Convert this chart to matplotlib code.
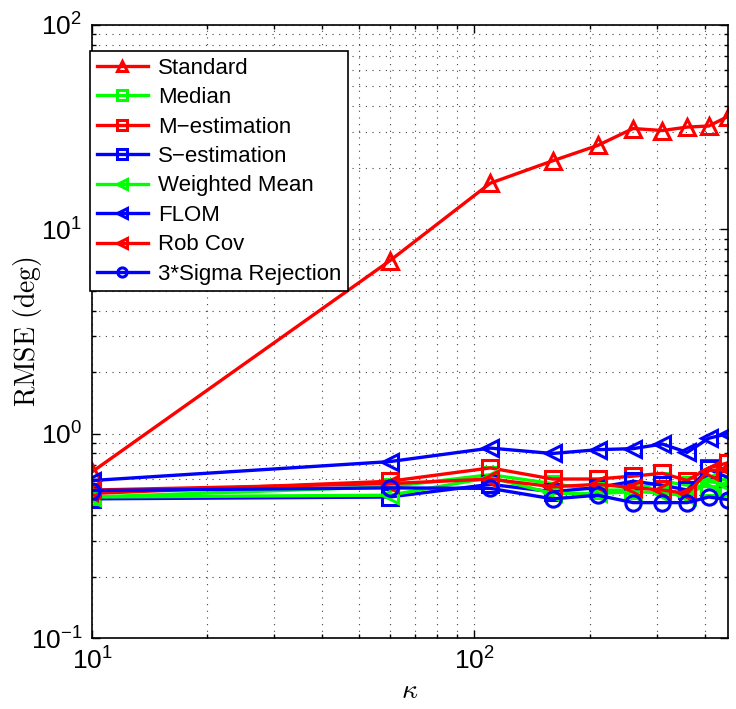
import matplotlib
matplotlib.use("Agg")
import matplotlib.pyplot as plt
import numpy as np

plt.rcParams['font.family'] = ['Liberation Sans', 'DejaVu Sans']
plt.rcParams['mathtext.fontset'] = 'cm'

kappa = [10, 60, 110, 160, 210, 260, 310, 360, 410, 460]

standard = [0.65, 7.0, 16.8, 21.6, 25.7, 31.1, 30.4, 31.6, 32.0, 35.6]
median = [0.49, 0.55, 0.63, 0.57, 0.53, 0.53, 0.585, 0.56, 0.55, 0.55]
m_est = [0.51, 0.585, 0.68, 0.60, 0.60, 0.62, 0.64, 0.59, 0.68, 0.72]
s_est = [0.48, 0.49, 0.565, 0.52, 0.545, 0.585, 0.56, 0.53, 0.67, 0.61]
w_mean = [0.49, 0.50, 0.61, 0.51, 0.51, 0.52, 0.515, 0.495, 0.585, 0.56]
flom = [0.59, 0.73, 0.85, 0.80, 0.835, 0.845, 0.89, 0.81, 0.95, 1.0]
rob_cov = [0.53, 0.57, 0.60, 0.55, 0.565, 0.545, 0.53, 0.51, 0.66, 0.67]
sigma3 = [0.527, 0.543, 0.54, 0.48, 0.50, 0.46, 0.46, 0.46, 0.49, 0.476]

series = [
    ("Standard", standard, "r", "^"),
    ("Median", median, "#00ff00", "s"),
    ("M\u2212estimation", m_est, "r", "s"),
    ("S\u2212estimation", s_est, "b", "s"),
    ("Weighted Mean", w_mean, "#00ff00", "<"),
    ("FLOM", flom, "b", "<"),
    ("Rob Cov", rob_cov, "r", "<"),
    ("3*Sigma Rejection", sigma3, "b", "o"),
]

fig = plt.figure(figsize=(7.36, 7.09), dpi=100)
ax = fig.add_axes([0.125, 0.100, 0.864, 0.865])

for label, vals, col, mk in series:
    ax.plot(kappa, vals, color=col, marker=mk, ms=11, mfc='none', mew=2.2,
            lw=2.4, label=label)

ax.set_xscale('log')
ax.set_yscale('log')
ax.set_xlim(10, 460)
ax.set_ylim(0.1, 100)

ax.grid(True, which='both', linestyle=(0, (1, 5)), color='#444444', lw=0.8)
ax.tick_params(which='both', direction='in', top=True, right=True,
               labelsize=19, width=1)
ax.tick_params(which='major', length=6, pad=7)
ax.tick_params(which='minor', length=3)
for sp in ax.spines.values():
    sp.set_linewidth(1.2)

ax.set_ylabel(r'$\mathrm{RMSE\ (deg)}$', fontsize=20)
ax.yaxis.set_label_coords(-0.076, 0.5)
ax.set_xlabel(r'$\kappa$', fontsize=20, labelpad=2)

leg = ax.legend(loc='upper left', bbox_to_anchor=(90 / 736, 1 - 51 / 709),
                bbox_transform=fig.transFigure, fontsize=16, fancybox=False,
                edgecolor='black', framealpha=1, markerscale=0.6,
                handlelength=2.3, borderpad=0.3, labelspacing=0.38,
                handletextpad=0.45, borderaxespad=0)
leg.get_frame().set_linewidth(1.2)

fig.savefig("out.png", dpi=100)
